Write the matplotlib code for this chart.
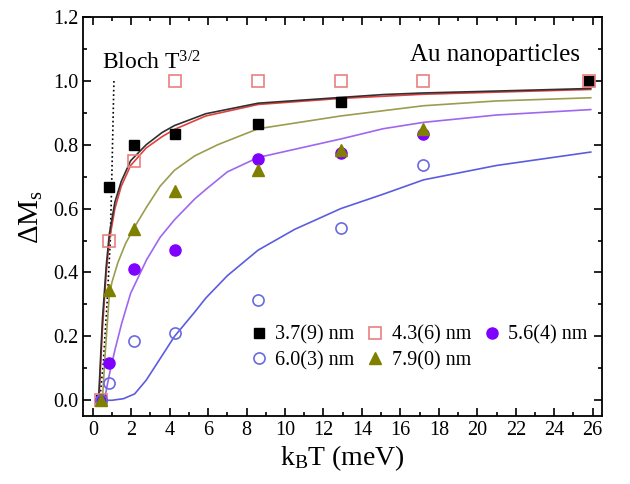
import numpy as np
import matplotlib
matplotlib.use("Agg")
import matplotlib.pyplot as plt
from matplotlib.ticker import MultipleLocator

plt.rcParams['font.family'] = ['Liberation Serif', 'DejaVu Serif']
plt.rcParams['mathtext.fontset'] = 'custom'
plt.rcParams['mathtext.rm'] = 'Liberation Serif'
plt.rcParams['mathtext.it'] = 'Liberation Serif'

# measured points (kB T in meV, normalized Delta Ms)
x_37 = [0.43, 0.86, 2.15, 4.3, 8.6, 12.9, 25.8]
y_37 = [0.0, 0.667, 0.80, 0.833, 0.866, 0.934, 1.0]
x_43 = [0.43, 0.86, 2.15, 4.3, 8.6, 12.9, 17.2, 25.8]
y_43 = [0.0, 0.50, 0.75, 1.0, 1.0, 1.0, 1.0, 1.0]
x_56 = [0.43, 0.86, 2.15, 4.3, 8.6, 12.9, 17.2]
y_56 = [0.0, 0.117, 0.41, 0.47, 0.755, 0.775, 0.835]
x_60 = [0.43, 0.86, 2.15, 4.3, 8.6, 12.9, 17.2]
y_60 = [0.0, 0.053, 0.185, 0.21, 0.315, 0.54, 0.737]
x_79 = [0.43, 0.86, 2.15, 4.3, 8.6, 12.9, 17.2]
y_79 = [0.0, 0.345, 0.535, 0.655, 0.72, 0.785, 0.85]

# fitted curves
fx_37 = [0.3, 0.5, 0.7, 0.86, 1.15, 1.48, 1.97, 2.78, 3.6, 4.25, 5.88, 8.6, 12.9, 15.1, 17.2, 21.0, 25.9]
fy_37 = [0.0, 0.25, 0.42, 0.52, 0.62, 0.685, 0.75, 0.80, 0.838, 0.86, 0.897, 0.93, 0.948, 0.957, 0.962, 0.968, 0.976]
fx_43 = [0.32, 0.5, 0.7, 0.86, 1.15, 1.48, 1.97, 2.78, 3.6, 4.25, 5.88, 8.6, 12.9, 17.2, 25.9]
fy_43 = [0.0, 0.22, 0.40, 0.50, 0.60, 0.67, 0.735, 0.79, 0.825, 0.848, 0.89, 0.926, 0.945, 0.958, 0.973]
fx_56 = [0.6, 0.86, 1.15, 1.5, 1.97, 2.8, 3.5, 4.25, 5.3, 5.88, 7.0, 8.6, 12.9, 15.1, 17.2, 21.0, 25.9]
fy_56 = [0.0, 0.08, 0.157, 0.24, 0.335, 0.44, 0.51, 0.565, 0.63, 0.66, 0.715, 0.76, 0.818, 0.85, 0.87, 0.893, 0.91]
fx_60 = [0.43, 1.0, 1.6, 2.18, 2.78, 3.5, 4.25, 5.3, 5.88, 7.0, 8.6, 10.5, 12.9, 15.1, 17.2, 21.0, 25.9]
fy_60 = [0.0, 0.0, 0.005, 0.02, 0.063, 0.13, 0.2, 0.276, 0.32, 0.39, 0.47, 0.535, 0.60, 0.645, 0.69, 0.735, 0.777]
fx_79 = [0.5, 0.65, 0.86, 1.0, 1.3, 1.7, 2.15, 2.8, 3.5, 4.25, 5.3, 6.5, 8.6, 12.9, 17.2, 21.0, 25.9]
fy_79 = [0.0, 0.15, 0.33, 0.37, 0.43, 0.49, 0.54, 0.605, 0.67, 0.72, 0.765, 0.80, 0.85, 0.89, 0.922, 0.937, 0.947]

# Bloch T^3/2 guide
bx = [0.36, 0.54, 0.76, 0.91, 0.98, 1.1]
by = [0.0, 0.11, 0.32, 0.50, 0.67, 1.0]

fig = plt.figure(figsize=(6.3, 4.84), dpi=100)
ax = fig.add_axes([0.132, 0.14, 0.824, 0.825])

ax.plot(bx, by, ':', color='black', lw=1.2)

ax.plot(fx_60, fy_60, '-', color='#5c5ce0', lw=1.2)
ax.plot(fx_56, fy_56, '-', color='#a066f0', lw=1.2)
ax.plot(fx_79, fy_79, '-', color='#9c9c50', lw=1.2)
ax.plot(fx_43, fy_43, '-', color='#e04040', lw=1.2)
ax.plot(fx_37, fy_37, '-', color='#303030', lw=1.2)

h37, = ax.plot(x_37, y_37, 's', color='black', ms=7, ls='none', label='3.7(9) nm')
h43, = ax.plot(x_43, y_43, 's', mfc='none', mec='#e88080', mew=1.2, ms=8, ls='none', label='4.3(6) nm')
h56, = ax.plot(x_56, y_56, 'o', color='#7f00ff', ms=8, ls='none', label='5.6(4) nm')
h60, = ax.plot(x_60, y_60, 'o', mfc='none', mec='#6a6ae0', mew=1.2, ms=8, ls='none', label='6.0(3) nm')
h79, = ax.plot(x_79, y_79, '^', color='#808000', ms=8, ls='none', label='7.9(0) nm')

ax.legend(handles=[h37, h60, h43, h79, h56], ncol=3, loc='lower right',
          bbox_to_anchor=(0.995, 0.085), frameon=False, fontsize=14.5,
          handletextpad=0.3, columnspacing=0.55, labelspacing=0.3,
          handlelength=1.0, borderaxespad=0.2)

ax.text(0.5, 1.057, r'Bloch T$^{3/2}$', fontsize=17, va='center')
ax.text(16.5, 1.08, 'Au nanoparticles', fontsize=18, va='center')

ax.set_xlim(-0.5, 26.5)
ax.set_ylim(-0.05, 1.2)
ax.xaxis.set_major_locator(MultipleLocator(2))
ax.xaxis.set_minor_locator(MultipleLocator(1))
ax.yaxis.set_major_locator(MultipleLocator(0.2))
ax.yaxis.set_minor_locator(MultipleLocator(0.1))
ax.set_yticks(np.arange(0, 1.21, 0.2))
ax.set_yticklabels(['0.0', '0.2', '0.4', '0.6', '0.8', '1.0', '1.2'])
ax.tick_params(which='both', direction='in', top=True, right=True, labelsize=14.5, width=1.2)
ax.tick_params(which='major', length=6)
ax.tick_params(which='minor', length=3)
for s in ax.spines.values():
    s.set_linewidth(1.3)

ax.set_xlabel(r'k$_\mathrm{B}$T (meV)', fontsize=20, labelpad=2)
ax.set_ylabel(r'$\Delta$M$_\mathrm{s}$', fontsize=21, labelpad=6)

fig.savefig('out.png', dpi=100)
